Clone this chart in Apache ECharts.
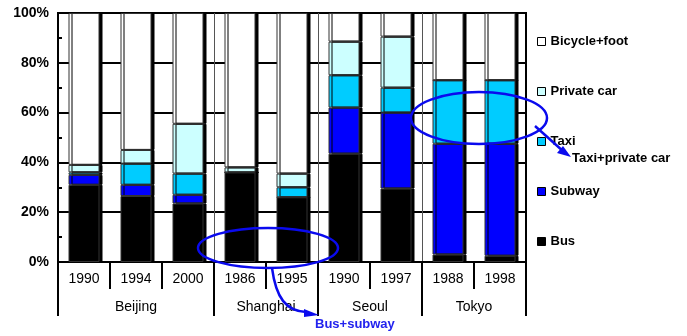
<!DOCTYPE html>
<html>
<head>
<meta charset="utf-8">
<script src="https://cdn.jsdelivr.net/npm/echarts@6/dist/echarts.min.js"></script>
<style>
html, body { margin: 0; padding: 0; background: #fff; }
#chart { width: 687px; height: 336px; }
</style>
</head>
<body>
<div id="chart"></div>
<script>
// modal split, % of trips
const years = ['1990', '1994', '2000', '1986', '1995', '1990', '1997', '1988', '1998'];
const cities = ['Beijing', 'Shanghai', 'Seoul', 'Tokyo'];
const cityBarCounts = [3, 2, 2, 2];

const busShare = [31, 26.5, 23.5, 36, 26, 43.5, 29.5, 3, 2.5];
const subwayShare = [4, 4.5, 3.5, 0, 0, 18.5, 30.5, 44.5, 45];
const taxiShare = [1, 8.5, 8.5, 0, 4, 13, 10, 25.5, 25.5];
const privateCarShare = [3, 5.5, 20, 2, 5.5, 13.5, 20.5, 0, 0];
const bicycleShare = [61, 55, 44.5, 62, 64.5, 11.5, 9.5, 27, 27];

const legendOrder = ['Bicycle+foot', 'Private car', 'Taxi', 'Subway', 'Bus'];

// second x axis: half-category points so city names sit centred under their group
const cityAxisData = [];
const cityBounds = [0];
cities.forEach((c, i) => {
    const n = cityBarCounts[i];
    for (let k = 0; k < 2 * n; k++) cityAxisData.push(k === n ? c : '');
    cityBounds.push(cityBounds[cityBounds.length - 1] + 2 * n);
});
cityAxisData.push('');
const innerBounds = cityBounds.slice(1, -1);

const font = 'Liberation Sans, Arial, sans-serif';

const seriesDefs = [
    { name: 'Bus', data: busShare, color: '#000000' },
    { name: 'Subway', data: subwayShare, color: '#0000ff' },
    { name: 'Taxi', data: taxiShare, color: '#00ccff' },
    { name: 'Private car', data: privateCarShare, color: '#ccffff' },
    { name: 'Bicycle+foot', data: bicycleShare, color: '#ffffff' }
];

const chart = echarts.init(document.getElementById('chart'));

chart.setOption({
    animation: false,
    grid: {
        left: 58, right: 161, top: 13, bottom: 74,
        show: true, borderColor: '#000', borderWidth: 2,
        outerBoundsMode: 'none'
    },
    legend: {
        data: legendOrder,
        orient: 'vertical',
        left: 532, top: 30,
        itemWidth: 8, itemHeight: 8, itemGap: 37, itemTextGap: 4,
        icon: 'rect',
        selectedMode: false,
        itemStyle: { borderColor: '#000', borderWidth: 1, shadowColor: 'rgba(0,0,0,0)', shadowOffsetX: 0 },
        textStyle: { fontFamily: font, fontSize: 13, fontWeight: 'bold', color: '#000' }
    },
    xAxis: [{
        type: 'category',
        data: years,
        position: 'bottom',
        axisLine: { show: true, lineStyle: { color: '#000', width: 2 } },
        axisTick: { show: true, length: 27, lineStyle: { color: '#000', width: 2 } },
        axisLabel: { fontFamily: font, fontSize: 14, color: '#000', margin: 10 },
        splitLine: { show: false }
    }, {
        type: 'category',
        data: cityAxisData,
        position: 'bottom',
        boundaryGap: false,
        axisLine: { show: false },
        axisTick: {
            show: true, length: 54,
            interval: (i) => cityBounds.includes(i),
            lineStyle: { color: '#000', width: 2 }
        },
        axisLabel: {
            fontFamily: font, fontSize: 14, color: '#000', margin: 38,
            interval: (i, v) => v !== ''
        },
        splitLine: {
            show: true,
            interval: (i) => innerBounds.includes(i),
            lineStyle: { color: '#555', width: 1 }
        }
    }],
    yAxis: {
        type: 'value',
        min: 0, max: 100, interval: 20,
        axisLine: { show: true, lineStyle: { color: '#000', width: 2 } },
        axisTick: { show: true, inside: true, length: 4, lineStyle: { color: '#000', width: 2 } },
        minorTick: { show: true, splitNumber: 2, length: 4, lineStyle: { color: '#000', width: 2 } },
        axisLabel: { formatter: '{value}%', fontFamily: font, fontSize: 14, fontWeight: 'bold', color: '#000', margin: 9 },
        splitLine: { show: true, lineStyle: { color: '#000', width: 2 } }
    },
    series: seriesDefs.map(s => ({
        name: s.name,
        type: 'bar',
        stack: 'mode',
        xAxisIndex: 0,
        barWidth: 31,
        data: s.data,
        itemStyle: {
            color: s.color,
            borderColor: '#333',
            borderWidth: 1,
            shadowColor: '#000',
            shadowOffsetX: 3,
            shadowBlur: 0
        },
        emphasis: { disabled: true }
    })),
    // hand-drawn notes on the original
    graphic: [
        { type: 'ellipse', z: 100, shape: { cx: 479, cy: 118, rx: 68, ry: 26 }, style: { fill: 'none', stroke: '#0a0aee', lineWidth: 2.5 } },
        { type: 'ellipse', z: 100, shape: { cx: 268, cy: 248, rx: 70, ry: 20 }, style: { fill: 'none', stroke: '#0a0aee', lineWidth: 2.5 } },
        { type: 'line', z: 100, shape: { x1: 535, y1: 126, x2: 564, y2: 152 }, style: { stroke: '#0a0aee', lineWidth: 2.5 } },
        { type: 'polygon', z: 100, shape: { points: [[571, 157], [557, 153], [563, 146]] }, style: { fill: '#0a0aee' } },
        { type: 'bezierCurve', z: 100, shape: { x1: 272, y1: 268, cpx1: 276, cpy1: 298, cpx2: 286, cpy2: 311, x2: 306, y2: 312 }, style: { fill: 'none', stroke: '#0a0aee', lineWidth: 2.5 } },
        { type: 'polygon', z: 100, shape: { points: [[319, 315], [304, 309], [304, 317]] }, style: { fill: '#0a0aee' } },
        { type: 'text', z: 100, left: 572, top: 152, style: { text: 'Taxi+private car', font: 'bold 13px ' + font, fill: '#000' } },
        { type: 'text', z: 100, left: 315, top: 318, style: { text: 'Bus+subway', font: 'bold 13px ' + font, fill: '#2222ee' } }
    ]
});
</script>
</body>
</html>
